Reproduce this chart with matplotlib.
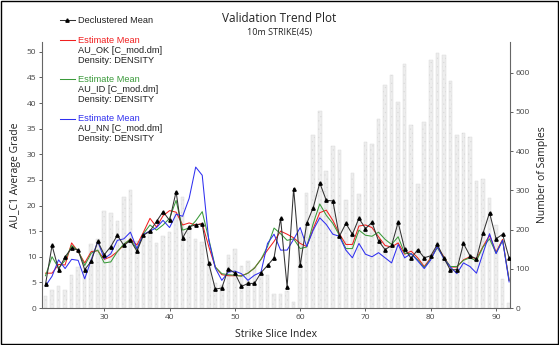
import matplotlib.pyplot as plt
from matplotlib.lines import Line2D
from matplotlib.patches import Rectangle

# strike slice index
idx = list(range(21, 93))

# number of samples per slice (right axis)
samples = [30, 47, 55, 47, 84, 105, 118, 162, 175, 247,
           242, 222, 283, 300, 172, 183, 196, 165, 183, 193,
           242, 282, 206, 175, 167, 118, 65, 59, 135, 150,
           108, 121, 104, 84, 84, 37, 35, 43, 15, 195,
           292, 440, 502, 350, 412, 402, 275, 343, 290, 424,
           418, 483, 568, 594, 525, 623, 466, 315, 474, 632,
           649, 646, 579, 440, 446, 436, 325, 328, 281, 211,
           75, 13]

declustered = [4.6, 12.2, 7.5, 10.0, 11.7, 11.3, 7.5, 9.1, 13.0, 10.4,
               12.0, 14.2, 12.2, 13.2, 11.1, 14.2, 15.0, 16.9, 18.8, 17.1,
               22.7, 13.7, 15.9, 16.2, 16.4, 8.7, 3.7, 3.9, 7.7, 6.8,
               4.2, 4.8, 4.8, 6.9, 8.3, 9.8, 17.5, 4.1, 23.3, 8.3,
               16.5, 19.6, 24.4, 21.0, 20.9, 14.0, 16.5, 14.4, 17.5, 15.5,
               16.7, 13.1, 11.4, 12.2, 16.7, 11.5, 9.7, 11.4, 9.8, 10.2,
               12.4, 9.8, 7.4, 7.5, 12.6, 10.2, 9.6, 14.6, 18.6, 13.5,
               14.4, 9.7]

au_ok = [6.8, 6.8, 8.5, 8.4, 12.7, 11.0, 8.8, 11.0, 11.2, 9.5,
         10.0, 11.0, 12.3, 13.5, 12.3, 14.8, 17.5, 15.8, 18.0, 19.0,
         18.7, 16.2, 16.6, 16.2, 16.5, 12.0, 8.0, 6.5, 6.3, 6.3,
         6.3, 6.8, 7.8, 9.5, 11.3, 13.0, 15.0, 14.4, 13.7, 12.6,
         12.0, 15.5, 18.6, 19.1, 17.1, 14.5, 12.4, 12.4, 16.0, 16.2,
         15.7, 13.9, 12.2, 11.9, 12.7, 10.5, 11.1, 9.8, 8.1, 9.8,
         11.9, 10.0, 8.0, 8.0, 9.4, 10.0, 9.6, 12.0, 14.2, 10.9,
         13.4, 5.4]

au_id = [6.3, 10.0, 7.8, 9.3, 12.2, 11.2, 8.3, 10.7, 11.3, 8.8,
         9.0, 11.0, 12.5, 13.4, 11.5, 14.5, 16.2, 15.2, 16.2, 17.5,
         21.0, 15.2, 15.6, 17.0, 18.8, 13.5, 8.0, 6.7, 6.5, 6.4,
         6.2, 6.8, 7.8, 9.5, 12.0, 15.6, 14.5, 13.2, 13.5, 11.6,
         11.9, 16.5, 20.3, 18.1, 16.5, 14.2, 11.6, 11.6, 15.2, 14.2,
         14.0, 14.8, 13.4, 12.4, 13.9, 10.7, 10.6, 9.4, 7.9, 9.6,
         11.8, 9.8, 8.1, 8.1, 9.3, 9.8, 9.2, 11.9, 13.5, 10.7,
         13.2, 5.4]

au_nn = [4.3, 6.2, 9.4, 7.7, 9.5, 9.3, 5.7, 9.4, 13.0, 9.6,
         10.6, 13.2, 13.5, 14.8, 11.6, 14.4, 15.0, 15.7, 17.1, 15.7,
         18.3, 17.9, 21.4, 27.5, 25.9, 13.2, 7.8, 5.4, 7.0, 7.2,
         6.7, 5.4, 6.4, 7.0, 12.6, 14.4, 11.3, 11.3, 13.4, 15.7,
         12.0, 15.2, 17.6, 16.3, 14.4, 14.0, 11.3, 9.8, 12.6, 10.5,
         10.0, 10.8, 9.8, 8.8, 12.4, 9.8, 10.6, 9.2, 7.7, 9.4,
         12.0, 9.6, 8.0, 6.7, 8.8, 8.1, 6.8, 10.7, 14.5, 10.6,
         13.2, 5.1]

plt.rcParams['hatch.color'] = '#d2d2d2'
plt.rcParams['hatch.linewidth'] = 0.3

fig = plt.figure(figsize=(5.59, 3.45), dpi=100)
ax = fig.add_axes([0.0751, 0.1072, 0.8372, 0.771])
ax2 = ax.twinx()

# bars behind the lines
ax2.bar(idx, samples, width=0.55, color='#ededed', edgecolor='#d8d8d8',
        linewidth=0.3, hatch='....')
ax.set_zorder(ax2.get_zorder() + 1)
ax.patch.set_visible(False)

ax.plot(idx, au_ok, color='#f02020', lw=0.75)
ax.plot(idx, au_id, color='#3a9a3a', lw=0.75)
ax.plot(idx, au_nn, color='#3030f0', lw=0.75)
ax.plot(idx, declustered, color='#333333', lw=0.75, marker='^', ms=2.4,
        mfc='black', mec='black')

ax.set_xlim(20.46, 92.13)
ax.set_ylim(0, 51.9)
ax2.set_ylim(0, 678)
ax.set_xticks([30, 40, 50, 60, 70, 80, 90])
ax.set_yticks(range(0, 51, 5))
ax2.set_yticks(range(0, 601, 100))

for a in (ax, ax2):
    a.spines['top'].set_visible(False)
    for s in a.spines.values():
        s.set_color('#666666')
        s.set_linewidth(0.8)
    a.tick_params(labelsize=6, colors='#444444', length=2.5, width=0.6,
                  pad=1.5)
    for t in a.get_xticklabels() + a.get_yticklabels():
        t.set_family('Open Sans')
ax.spines['right'].set_visible(False)
ax2.spines['left'].set_visible(False)
ax2.spines['bottom'].set_visible(False)

ax.set_xlabel('Strike Slice Index', fontsize=7.5, family='Open Sans',
              color='#222222', labelpad=6)
ax.set_ylabel('AU_C1 Average Grade', fontsize=7.5, family='Open Sans',
              color='#222222', labelpad=4)
ax2.set_ylabel('Number of Samples', fontsize=7.5, family='Open Sans',
               color='#222222', labelpad=5)

fig.text(0.5, 0.945, 'Validation Trend Plot', ha='center', va='center',
         fontsize=8.5, family='Open Sans', color='#222222')
fig.text(0.5, 0.905, '10m STRIKE(45)', ha='center', va='center',
         fontsize=6.5, family='Open Sans', color='#222222')

# legend drawn by hand, as in the source
def legend_line(y, color):
    fig.add_artist(Line2D([0.107, 0.134], [y, y], color=color, lw=0.75,
                          transform=fig.transFigure))

legend_line(0.941, '#333333')
fig.add_artist(Line2D([0.1205], [0.941], color='black', marker='^', ms=2.4,
                      transform=fig.transFigure))
fig.text(0.139, 0.941, 'Declustered Mean', fontsize=6.7, va='center',
         family='Liberation Sans', color='#222222')

entries = [('#f02020', 'AU_OK'), ('#3a9a3a', 'AU_ID'), ('#3030f0', 'AU_NN')]
y0 = 0.884
for k, (col, name) in enumerate(entries):
    y = y0 - k * 0.114
    legend_line(y, col)
    fig.text(0.139, y, 'Estimate Mean', fontsize=6.7, va='center',
             family='Liberation Sans', color=col)
    fig.text(0.139, y - 0.029, name + ' [C_mod.dm]', fontsize=6.7,
             va='center', family='Liberation Sans', color='#222222')
    fig.text(0.139, y - 0.058, 'Density: DENSITY', fontsize=6.7,
             va='center', family='Liberation Sans', color='#222222')

# outer frame
fig.add_artist(Rectangle((0.002, 0.003), 0.996, 0.994, fill=False,
                         edgecolor='black', lw=1.0,
                         transform=fig.transFigure))

fig.savefig('out.png', dpi=100)
